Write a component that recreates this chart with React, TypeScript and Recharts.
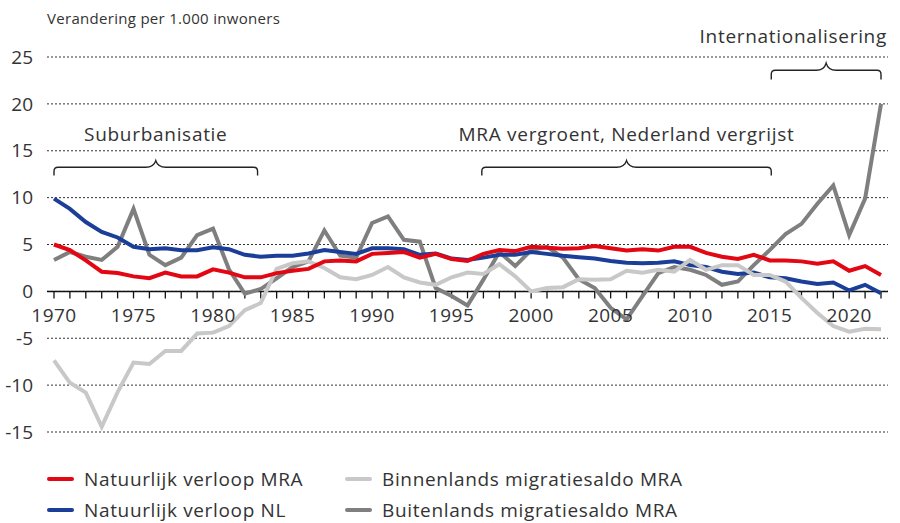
import React from 'react';
import { LineChart, Line, XAxis, YAxis, CartesianGrid, ReferenceLine, ReferenceDot, ReferenceArea } from 'recharts';

const FONT = "'Open Sans', sans-serif";
const TEXT = '#333';

const years = [
  1970, 1971, 1972, 1973, 1974, 1975, 1976, 1977, 1978, 1979,
  1980, 1981, 1982, 1983, 1984, 1985, 1986, 1987, 1988, 1989,
  1990, 1991, 1992, 1993, 1994, 1995, 1996, 1997, 1998, 1999,
  2000, 2001, 2002, 2003, 2004, 2005, 2006, 2007, 2008, 2009,
  2010, 2011, 2012, 2013, 2014, 2015, 2016, 2017, 2018, 2019,
  2020, 2021, 2022,
];

const natuurlijkMRA = [
  5.0, 4.4, 3.3, 2.1, 1.95, 1.6, 1.4, 2.0, 1.6, 1.6,
  2.35, 2.0, 1.5, 1.5, 1.95, 2.2, 2.4, 3.2, 3.3, 3.2,
  4.0, 4.1, 4.2, 3.6, 4.0, 3.45, 3.25, 4.0, 4.4, 4.3,
  4.75, 4.65, 4.55, 4.6, 4.85, 4.6, 4.35, 4.5, 4.35, 4.75,
  4.75, 4.1, 3.7, 3.45, 3.9, 3.3, 3.3, 3.2, 2.95, 3.2,
  2.2, 2.7, 1.75,
];

const natuurlijkNL = [
  9.9, 8.8, 7.4, 6.35, 5.75, 4.75, 4.5, 4.6, 4.4, 4.4,
  4.7, 4.5, 3.9, 3.7, 3.8, 3.8, 4.05, 4.4, 4.2, 4.0,
  4.6, 4.6, 4.5, 3.9, 4.05, 3.5, 3.35, 3.6, 3.9, 3.9,
  4.2, 4.0, 3.8, 3.65, 3.5, 3.25, 3.05, 3.0, 3.05, 3.2,
  2.8, 2.6, 2.1, 1.85, 2.0, 1.5, 1.4, 1.05, 0.8, 0.95,
  0.1, 0.7, -0.2,
];

const binnenlands = [
  -7.35, -9.75, -10.8, -14.45, -10.75, -7.6, -7.75, -6.35, -6.35, -4.5,
  -4.4, -3.7, -2.0, -1.25, 2.4, 3.0, 3.2, 2.5, 1.5, 1.3,
  1.75, 2.6, 1.5, 0.95, 0.7, 1.5, 2.0, 1.85, 2.9, 1.6,
  0.0, 0.35, 0.45, 1.3, 1.25, 1.3, 2.2, 2.0, 2.3, 2.1,
  3.35, 2.3, 2.8, 2.8, 1.75, 1.75, 1.05, -0.7, -2.3, -3.7,
  -4.3, -4.0, -4.05,
];

const buitenlands = [
  3.35, 4.2, 3.7, 3.35, 4.75, 8.8, 3.9, 2.8, 3.6, 6.0,
  6.7, 2.35, -0.25, 0.25, 1.4, 2.6, 3.2, 6.5, 3.8, 3.6,
  7.3, 8.0, 5.5, 5.3, 0.35, -0.5, -1.5, 1.25, 4.2, 2.7,
  4.4, 4.75, 3.6, 1.3, 0.35, -1.75, -3.0, -0.5, 1.95, 2.6,
  2.3, 1.75, 0.7, 1.05, 2.8, 4.4, 6.1, 7.2, 9.35, 11.3,
  6.0, 9.9, 20.0,
];

const yTicks = [-15, -10, -5, 0, 5, 10, 15, 20, 25];
const labelYears = [1970, 1975, 1980, 1985, 1990, 1995, 2000, 2005, 2010, 2015, 2020];

const series = [
  { key: 'natMRA', name: 'Natuurlijk verloop MRA', color: '#e30613' },
  { key: 'natNL', name: 'Natuurlijk verloop NL', color: '#1b3f98' },
  { key: 'binnen', name: 'Binnenlands migratiesaldo MRA', color: '#c8c8c8' },
  { key: 'buiten', name: 'Buitenlands migratiesaldo MRA', color: '#7f7f7f' },
];
// drawing order (bottom to top)
const drawOrder = ['buiten', 'natNL', 'binnen', 'natMRA'];

const periods = [
  { label: 'Suburbanisatie', from: 1970, to: 1982.8, low: 12.35, high: 13.95, anchor: 'middle' },
  { label: 'MRA vergroent, Nederland vergrijst', from: 1996.9, to: 2015.1, low: 12.35, high: 13.95, anchor: 'middle' },
  { label: 'Internationalisering', from: 2015.1, to: 2022, low: 22.6, high: 24.35, anchor: 'end' },
];

const data = years.map((year, i) => ({
  year,
  natMRA: natuurlijkMRA[i],
  natNL: natuurlijkNL[i],
  binnen: binnenlands[i],
  buiten: buitenlands[i],
}));

const Brace = (props: any) => {
  const { x, y, width: w, height: h, label, anchor } = props;
  const cx = x + w / 2;
  const a = y + h * 0.44;
  const r = 4;
  const r2 = 10;
  const d = `M${x},${y + h} L${x},${a + r} Q${x},${a} ${x + r},${a} L${cx - r2},${a} Q${cx - 2},${a} ${cx},${y}` +
    ` Q${cx + 2},${a} ${cx + r2},${a} L${x + w - r},${a} Q${x + w},${a} ${x + w},${a + r} L${x + w},${y + h}`;
  return (
    <g>
      <path d={d} fill="none" stroke="#222" strokeWidth={1.4} />
      <text
        x={anchor === 'end' ? x + w + 6 : cx}
        y={y - 20}
        textAnchor={anchor}
        fontSize={19}
        fill={TEXT}
        fontFamily={FONT}
        style={{ letterSpacing: 0.7 }}
      >
        {label}
      </text>
    </g>
  );
};

export default function App() {
  const ordered = drawOrder.map((k) => series.find((s) => s.key === k)!);
  return (
    <div style={{ position: 'absolute', left: 0, top: 0, width: 900, height: 523, fontFamily: FONT, background: '#fff' }}>
      <div style={{ position: 'absolute', left: 47, top: 11, fontSize: 15, lineHeight: 1, color: TEXT, whiteSpace: 'nowrap', letterSpacing: 0.3 }}>
        Verandering per 1.000 inwoners
      </div>
      <LineChart width={900} height={523} data={data} margin={{ top: 57, right: 12, left: 0, bottom: 91 }} style={{ fontFamily: FONT }}>
        <CartesianGrid vertical={false} stroke="#333" strokeDasharray="2 2" />
        <XAxis type="number" dataKey="year" domain={[1970, 2022]} hide padding={{ left: 7, right: 7 }} />
        <YAxis
          domain={[-15, 25]}
          ticks={yTicks}
          width={47}
          axisLine={false}
          tickLine={false}
          tickMargin={8}
          tick={{ fill: TEXT, fontSize: 19, fontFamily: FONT }}
          interval={0}
        />
        <ReferenceLine y={0} stroke="#111" strokeWidth={1.5} />
        {years.map((yr) => (
          <ReferenceLine key={'t' + yr} segment={[{ x: yr, y: 0 }, { x: yr, y: -0.75 }]} stroke="#111" strokeWidth={1.3} />
        ))}
        {labelYears.map((yr) => (
          <ReferenceDot
            key={'l' + yr}
            x={yr}
            y={0}
            r={0}
            fill="none"
            stroke="none"
            label={{ value: String(yr), position: 'bottom', offset: 17, fill: TEXT, fontSize: 19, fontFamily: FONT, style: { letterSpacing: 0.5 } }}
          />
        ))}
        {periods.map((p) => (
          <ReferenceArea
            key={p.label}
            x1={p.from}
            x2={p.to}
            y1={p.low}
            y2={p.high}
            shape={(s: any) => <Brace {...s} label={p.label} anchor={p.anchor} />}
          />
        ))}
        {ordered.map((s) => (
          <Line
            key={s.key}
            type="linear"
            dataKey={s.key}
            name={s.name}
            stroke={s.color}
            strokeWidth={4}
            dot={false}
            isAnimationActive={false}
          />
        ))}
      </LineChart>
      <div
        style={{
          position: 'absolute',
          left: 47,
          top: 463,
          display: 'grid',
          gridTemplateColumns: '298px 420px',
          gridTemplateRows: '31px 31px',
          gridAutoFlow: 'column',
          fontSize: 19,
          letterSpacing: 0.65,
          color: TEXT,
        }}
      >
        {series.map((s) => (
          <div key={s.key} style={{ display: 'flex', alignItems: 'center', whiteSpace: 'nowrap' }}>
            <span style={{ display: 'inline-block', flexShrink: 0, width: 27, height: 4, borderRadius: 2, background: s.color, marginRight: 10 }} />
            {s.name}
          </div>
        ))}
      </div>
    </div>
  );
}
